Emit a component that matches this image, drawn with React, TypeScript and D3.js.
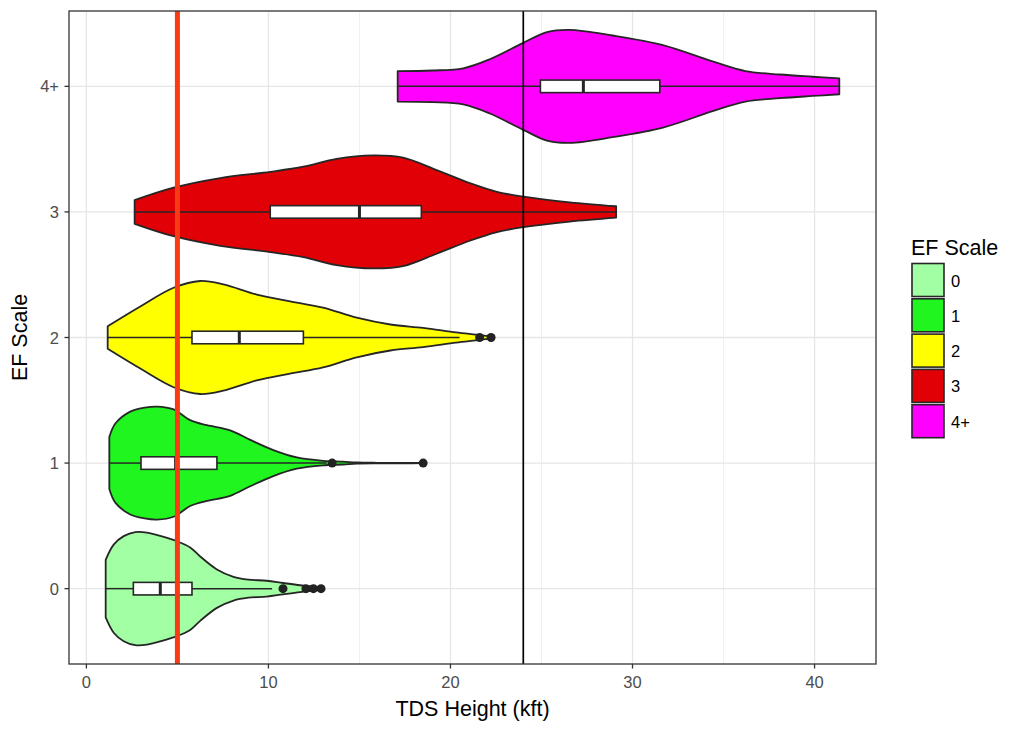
import React from "react";
import * as d3 from "d3";

const categories = ["0", "1", "2", "3", "4+"];
const fillColors = ["#A3FFA3", "#20F520", "#FFFF00", "#E10005", "#FF00FF"];

// violin profiles: [TDS height (kft), relative half-width]
const violin0: [number, number][] = [
  [1.06, 0.51], [1.5, 0.78], [2.05, 0.93], [2.69, 1.0], [3.33, 0.99], [4.2, 0.92],
  [4.97, 0.84], [5.7, 0.73], [6.25, 0.57], [7.17, 0.34], [8.08, 0.21], [8.9, 0.16],
  [9.9, 0.14], [10.8, 0.1], [11.74, 0.06], [12.47, 0.035], [12.9, 0.02],
];
const violin1: [number, number][] = [
  [1.26, 0.46], [1.59, 0.7], [2.41, 0.91], [3.2, 0.98], [3.88, 1.0], [4.79, 0.95],
  [5.7, 0.76], [6.62, 0.67], [7.9, 0.58], [9.0, 0.41], [10.27, 0.23], [11.56, 0.1],
  [13.0, 0.04], [14.1, 0.025], [14.85, 0.01], [16.0, 0.005], [17.5, 0.004], [18.5, 0.002],
];
const violin2: [number, number][] = [
  [1.17, 0.2], [2.96, 0.55], [4.79, 0.88], [6.25, 1.0], [7.53, 0.94], [9.36, 0.76],
  [11.19, 0.64], [13.0, 0.53], [14.85, 0.35], [16.7, 0.23], [18.5, 0.17], [20.3, 0.09],
  [21.4, 0.05], [22.2, 0.02],
];
const violin3: [number, number][] = [
  [2.65, 0.21], [4.79, 0.43], [7.35, 0.6], [10.1, 0.71], [11.92, 0.8], [13.75, 0.94],
  [15.76, 1.0], [17.4, 0.96], [19.24, 0.74], [21.06, 0.51], [22.5, 0.36], [24.0, 0.27],
  [26.55, 0.17], [29.1, 0.1],
];
const violin4: [number, number][] = [
  [17.1, 0.27], [19.0, 0.28], [20.7, 0.32], [22.16, 0.48], [24.0, 0.77], [25.3, 0.96],
  [26.55, 1.0], [28.9, 0.9], [31.67, 0.73], [34.4, 0.44], [36.2, 0.27], [38.1, 0.21],
  [39.9, 0.17], [41.36, 0.14],
];
const violins = [violin0, violin1, violin2, violin3, violin4];

const q1 = [2.58, 3.0, 5.8, 10.1, 24.94];
const medians = [4.06, 4.9, 8.4, 15.0, 27.3];
const q3 = [5.8, 7.17, 11.92, 18.4, 31.5];
const whiskerLo = [1.06, 1.26, 1.17, 2.65, 17.1];
const whiskerHi = [10.2, 13.2, 20.5, 29.1, 41.36];
const outliers: number[][] = [[10.8, 12.06, 12.47, 12.89], [13.5, 18.5], [21.6, 22.23], [], []];

const xTicks = [0, 10, 20, 30, 40];
const xMinorTicks = [5, 15, 25, 35];
const redLineValue = 5;
const blackLineValue = 24;

const xTitle = "TDS Height (kft)";
const yTitle = "EF Scale";
const legendTitle = "EF Scale";

const FONT = "'Liberation Sans', Arial, Helvetica, sans-serif";

export default function App() {
  const W = 1024, H = 731;
  const left = 69, right = 876, top = 11, bottom = 664;

  const allVals = violins.flat().map((d) => d[0]);
  const lo = d3.min(allVals)!, hi = d3.max(allVals)!;
  const pad = (hi - lo) * 0.05;
  const x = d3.scaleLinear().domain([lo - pad, hi + pad]).range([left, right]);
  const y = d3.scalePoint<string>().domain(categories).range([bottom, top]).padding(0.6);
  const step = y.step();
  const maxHalf = step * 0.45;
  const boxHalf = step * 0.05;

  const stroke = "#262626";

  return (
    <svg width={W} height={H} style={{ position: "absolute", left: 0, top: 0, background: "#fff" }}>
      <rect x={0} y={0} width={W} height={H} fill="#fff" />
      {/* grid */}
      {xMinorTicks.map((t) => (
        <line key={"mi" + t} x1={x(t)} x2={x(t)} y1={top} y2={bottom} stroke="#EDEDED" strokeWidth={0.9} />
      ))}
      {xTicks.map((t) => (
        <line key={"ma" + t} x1={x(t)} x2={x(t)} y1={top} y2={bottom} stroke="#E6E6E6" strokeWidth={1.3} />
      ))}
      {categories.map((c) => (
        <line key={"hy" + c} x1={left} x2={right} y1={y(c)} y2={y(c)} stroke="#E6E6E6" strokeWidth={1.3} />
      ))}
      {/* violins */}
      {violins.map((v, i) => {
        const cy = y(categories[i])!;
        const area = d3
          .area<[number, number]>()
          .x((d) => x(d[0]))
          .y0((d) => cy - d[1] * maxHalf)
          .y1((d) => cy + d[1] * maxHalf)
          .curve(d3.curveCatmullRom.alpha(0.5));
        return (
          <path key={"v" + i} d={area(v) || ""} fill={fillColors[i]} stroke={stroke} strokeWidth={1.8} strokeLinejoin="round" />
        );
      })}
      {/* boxplots */}
      {categories.map((c, i) => {
        const cy = y(c)!;
        return (
          <g key={"b" + c}>
            <line x1={x(whiskerLo[i])} x2={x(q1[i])} y1={cy} y2={cy} stroke={stroke} strokeWidth={1.5} />
            <line x1={x(q3[i])} x2={x(whiskerHi[i])} y1={cy} y2={cy} stroke={stroke} strokeWidth={1.5} />
            <rect
              x={x(q1[i])}
              y={cy - boxHalf}
              width={x(q3[i]) - x(q1[i])}
              height={boxHalf * 2}
              fill="#fff"
              stroke={stroke}
              strokeWidth={1.6}
            />
            <line x1={x(medians[i])} x2={x(medians[i])} y1={cy - boxHalf} y2={cy + boxHalf} stroke={stroke} strokeWidth={3} />
            {outliers[i].map((o, k) => (
              <circle key={k} cx={x(o)} cy={cy} r={4.5} fill="#222" />
            ))}
          </g>
        );
      })}
      {/* reference lines */}
      <line x1={x(blackLineValue)} x2={x(blackLineValue)} y1={top} y2={bottom} stroke="#000" strokeWidth={1.7} />
      <line x1={x(redLineValue)} x2={x(redLineValue)} y1={top} y2={bottom} stroke="#FA3A14" strokeWidth={5} />
      {/* panel border */}
      <rect x={left} y={top} width={right - left} height={bottom - top} fill="none" stroke="#333" strokeWidth={1.3} />
      {/* x axis */}
      {xTicks.map((t) => (
        <g key={"xt" + t}>
          <line x1={x(t)} x2={x(t)} y1={bottom} y2={bottom + 4.5} stroke="#333" strokeWidth={1.3} />
          <text x={x(t)} y={688} textAnchor="middle" fontFamily={FONT} fontSize={16.5} fill="#4D4D4D">
            {t}
          </text>
        </g>
      ))}
      {/* y axis */}
      {categories.map((c) => (
        <g key={"yt" + c}>
          <line x1={left - 4.5} x2={left} y1={y(c)} y2={y(c)} stroke="#333" strokeWidth={1.3} />
          <text x={59} y={y(c)! + 6} textAnchor="end" fontFamily={FONT} fontSize={16.5} fill="#4D4D4D">
            {c}
          </text>
        </g>
      ))}
      <text x={(left + right) / 2} y={716} textAnchor="middle" fontFamily={FONT} fontSize={21.5} fill="#000">
        {xTitle}
      </text>
      <text
        transform={`translate(27,${(top + bottom) / 2}) rotate(-90)`}
        textAnchor="middle"
        fontFamily={FONT}
        fontSize={21.5}
        fill="#000"
      >
        {yTitle}
      </text>
      {/* legend */}
      <text x={911} y={255} fontFamily={FONT} fontSize={21.5} fill="#000">
        {legendTitle}
      </text>
      {categories.map((c, i) => {
        const ky = 263.5 + i * 35.3;
        return (
          <g key={"lg" + c}>
            <rect x={912} y={ky} width={32} height={33} fill={fillColors[i]} stroke={stroke} strokeWidth={1.6} />
            <text x={951} y={ky + 16.5 + 6.5} fontFamily={FONT} fontSize={16.5} fill="#000">
              {c}
            </text>
          </g>
        );
      })}
    </svg>
  );
}
